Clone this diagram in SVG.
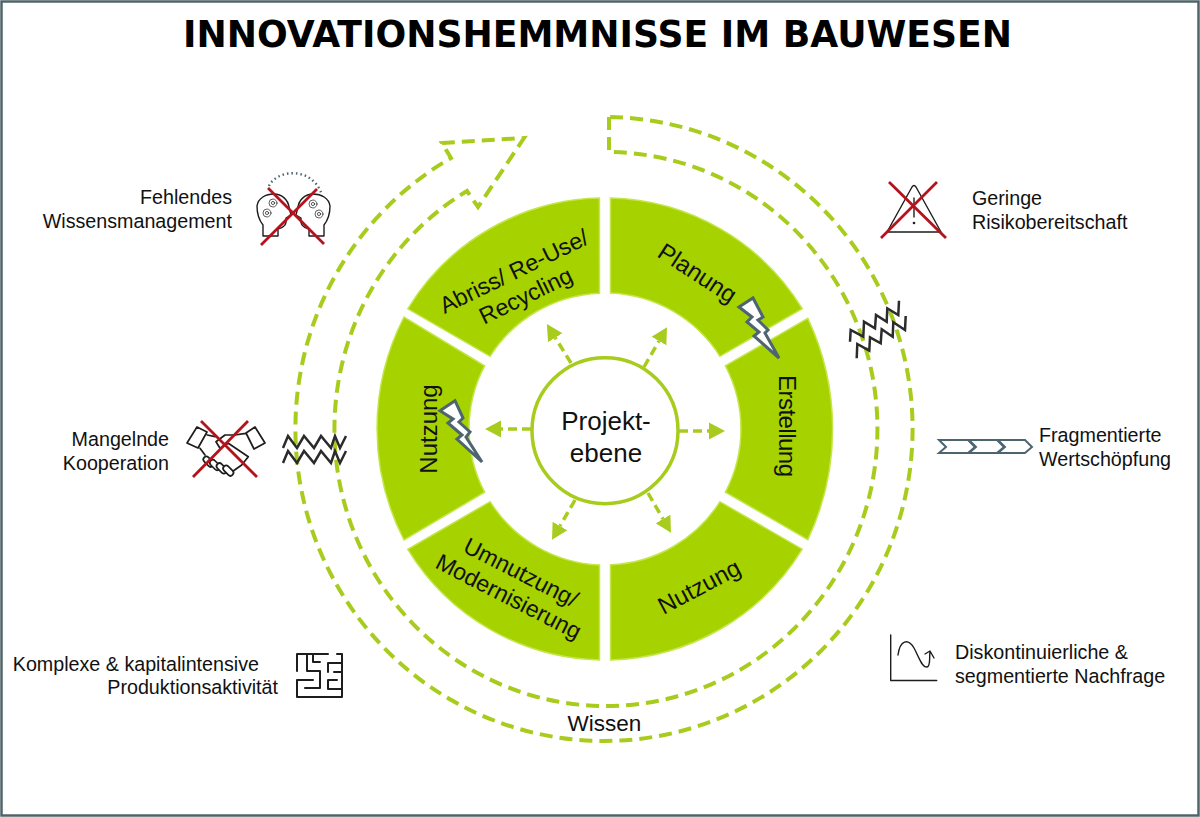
<svg xmlns="http://www.w3.org/2000/svg" width="1200" height="817" viewBox="0 0 1200 817">
<defs>
<style>
text{font-family:"Liberation Sans",Arial,sans-serif;fill:#111;font-size:19.7px}
.seg{fill:#a6d200;stroke:#c4e64c;stroke-width:1.5}
.lab{font-size:24px;text-anchor:middle}
.lab2{font-size:23.2px;text-anchor:middle}
.r{text-anchor:end}
.dash{fill:none;stroke:#a8cc1e;stroke-width:4;stroke-dasharray:13 7}
.spoke{fill:none;stroke:#a8cc1e;stroke-width:3.5;stroke-dasharray:9 5;marker-end:url(#head)}
.cross{fill:none;stroke:#b5121b;stroke-width:2.8}
.ico{fill:none;stroke:#1d1d1d;stroke-width:1.4;stroke-linejoin:round;stroke-linecap:round}
.zig{fill:none;stroke:#2b2b2b;stroke-width:2.5}
.bolt{fill:#fff;stroke:#4c6570;stroke-width:3;stroke-linejoin:miter}
.chev{fill:#fff;stroke:#4c6570;stroke-width:2}
.finger{fill:#fff;stroke:#1d1d1d;stroke-width:1.7}
</style>
<marker id="head" markerUnits="userSpaceOnUse" markerWidth="18" markerHeight="20" refX="0" refY="9" orient="auto"><path d="M0,0.5L16,9L0,17.5Z" fill="#a8cc1e"/></marker>
</defs>
<rect x="1.5" y="1.5" width="1197" height="814" fill="#fff" stroke="#4f6468" stroke-width="2.5"/>
<text id="title" x="597.5" y="47" text-anchor="middle" textLength="829" lengthAdjust="spacingAndGlyphs" style="font-family:'DejaVu Sans',sans-serif;font-weight:bold;font-size:38px;fill:#000">INNOVATIONSHEMMNISSE IM BAUWESEN</text>

<g id="connectors">
<path id="wissen-arrow" class="dash" d="M609,117L609,152A271.5,277 0 1 1 467,191L478,207L524,138L442,143L451,158A308.6,312 0 1 0 609,117Z"/>
<line class="spoke" x1="679" y1="431" x2="709" y2="431"/>
<line class="spoke" x1="531" y1="429" x2="501" y2="429"/>
<line class="spoke" x1="571" y1="363" x2="555.3" y2="337.7"/>
<line class="spoke" x1="644" y1="367" x2="659" y2="341"/>
<line class="spoke" x1="575" y1="500" x2="560" y2="526"/>
<line class="spoke" x1="648" y1="493" x2="663" y2="519"/>
</g>

<g id="node-planung"><path class="seg" d="M610.5,198.1A231,231 0 0 1 802.2,308.7L719.9,356.3A136,136 0 0 0 610.5,293.1Z"/><text class="lab" transform="translate(693,280) rotate(33)">Planung</text></g>
<g id="node-erstellung"><path class="seg" d="M807.8,318.4A259,259 0 0 1 807.8,539.6L725.4,492.2A136,136 0 0 0 725.4,365.8Z"/><text class="lab" transform="translate(779,426) rotate(90)" textLength="102">Erstellung</text></g>
<g id="node-nutzung-b"><path class="seg" transform="rotate(120 605 429)" d="M610.5,198.1A231,231 0 0 1 802.2,308.7L719.9,356.3A136,136 0 0 0 610.5,293.1Z"/><text class="lab" transform="translate(703,594) rotate(-28)">Nutzung</text></g>
<g id="node-umnutzung"><path class="seg" transform="rotate(180 605 429)" d="M610.5,198.1A231,231 0 0 1 802.2,308.7L719.9,356.3A136,136 0 0 0 610.5,293.1Z"/><text class="lab2" transform="translate(511,592) rotate(27)"><tspan x="0" y="-14">Umnutzung/</tspan><tspan x="0" y="13">Modernisierung</tspan></text></g>
<g id="node-nutzung-a"><path class="seg" d="M404,317A244,244 0 0 0 404,540L484.6,492.2A136,136 0 0 1 484.6,365.8Z"/><text class="lab" transform="translate(437,429) rotate(-90)">Nutzung</text></g>
<g id="node-abriss"><path class="seg" transform="rotate(300 605 429)" d="M610.5,198.1A231,231 0 0 1 802.2,308.7L719.9,356.3A136,136 0 0 0 610.5,293.1Z"/><text class="lab2" transform="translate(524,292) rotate(-26)"><tspan x="0" y="-15">Abriss/ Re-Use/</tspan><tspan x="0" y="12">Recycling</tspan></text></g>

<g id="node-projektebene"><circle cx="605" cy="430.7" r="73" fill="#fff" stroke="#a8cc1e" stroke-width="3.5"/><text x="606" y="430" text-anchor="middle" style="font-size:26px">Projekt-</text><text x="606" y="462" text-anchor="middle" style="font-size:26px">ebene</text></g>

<g id="bolt-1"><polygon class="bolt" points="739,307 753,298 763,317 758,320 768,330 765,333 779,358 754,336 759,332 747,322 752,317"/></g>
<g id="bolt-2"><polygon class="bolt" points="440,410.7 455,400.7 463,418 459,422 470,432 466,437 482,462 457,439 462,435 448,423 453,419"/></g>

<g id="zigzag-left"><polyline class="zig" points="283,448 288,436 297,448 304,436 314,448 321,436 331,448 335,436 340,448 346,436"/><polyline class="zig" points="283,463 288,451 297,463 304,451 314,463 321,451 331,463 335,451 340,463 346,451"/></g>
<g id="zigzag-right"><polyline class="zig" points="850,341.7 850.7,330 863.3,336.7 864,321.7 875,328.3 876,315 886.7,321.7 887.3,308.3 898.3,315 899,300.7"/><polyline class="zig" points="856.7,358.3 857.3,344 869.3,350.7 870,337.3 880.7,343.3 881.7,329.3 892.7,336.7 893.3,322.3 905,330 905.7,316"/></g>

<g id="risk"><path class="ico" d="M887,232L912,187Q914,184 916,187L941,232Z"/><path class="ico" d="M914,198V217" stroke-width="2"/><circle cx="914" cy="223" r="1.3" fill="#1d1d1d"/><path class="cross" d="M889,182L946,238M937,182L881,238"/><text x="972" y="205">Geringe</text><text x="972" y="229">Risikobereitschaft</text></g>
<g id="wertschoepfung"><polygon class="chev" points="939,440 968,440 975,447 968,453 939,453 946,447"/><polygon class="chev" points="969,440 997,440 1004,447 997,453 969,453 976,447"/><polygon class="chev" points="998,440 1025,440 1032,447 1025,453 998,453 1005,447"/><text x="1039" y="442">Fragmentierte</text><text x="1039" y="466">Wertschöpfung</text></g>
<g id="nachfrage"><path class="ico" d="M890.7,635V680.5H936.7" stroke-width="1.8"/><path class="ico" d="M898,655C900,640 908,638 914,648C919,657 922,668 927,667C931,666 929,657 930,652M925,654L930,651L934,658"/><text x="955" y="659">Diskontinuierliche &amp;</text><text x="955" y="683">segmentierte Nachfrage</text></g>
<g id="produktion"><path class="ico" style="stroke-width:2" d="M328,654H297V671M307,654V671H320V688H305M313,654V662H320M337,654H342V697H297V680H313M328,663H342V672M328,663V672M334,672H342M328,680H337M328,680V689H342"/><text x="259" y="671" class="r">Komplexe &amp; kapitalintensive</text><text x="278" y="694" class="r">Produktionsaktivität</text></g>
<g id="wissensmanagement"><path d="M269,186C276,170 312,165 322,195" fill="none" stroke="#4c6570" stroke-width="2.4" stroke-dasharray="1.5 3"/><path class="ico" d="M263,236V225C259,220 257,214 257,206C258,198 266,194 274,194C282,194 288,200 289,207L291,215L286,218C287,224 284,228 278,229V236Z"/><path class="ico" d="M324,236V225C328,220 330,214 330,206C329,198 321,194 313,194C305,194 299,200 298,207L296,215L301,218C300,224 303,228 309,229V236Z"/><g class="ico" style="stroke-width:0.7"><circle cx="273" cy="203" r="1.6"/><circle cx="273" cy="203" r="4"/><circle cx="267" cy="213" r="1.6"/><circle cx="267" cy="213" r="4"/><circle cx="313" cy="204" r="1.6"/><circle cx="313" cy="204" r="4"/><circle cx="319" cy="214" r="1.6"/><circle cx="319" cy="214" r="4"/></g><path class="cross" d="M268,188L324,244M317,189L261,245"/><text x="232" y="204" class="r">Fehlendes</text><text x="232" y="228" class="r">Wissensmanagement</text></g>
<g id="kooperation"><path class="ico" style="stroke-width:1.7" d="M197,427L207,432L198,448L187,443ZM255,427L265,443L254,449L246,433ZM207.3,435L215,436.7M200,448.3L205,455M245.7,433.3L235,435H225L216,441.7L220,448.3L228.3,443.3L248.3,456.7L241.7,465L230,473.3"/><rect class="finger" x="202.5" y="458.7" width="12" height="6" rx="3" transform="rotate(45 208.5 461.7)"/><rect class="finger" x="209" y="462" width="12" height="6" rx="3" transform="rotate(45 215 465)"/><rect class="finger" x="215.7" y="465.3" width="12" height="6" rx="3" transform="rotate(45 221.7 468.3)"/><rect class="finger" x="222.3" y="467.7" width="12" height="6" rx="3" transform="rotate(45 228.3 470.7)"/><path class="cross" d="M201,421L257,477M248,421L193,477"/><text x="169" y="446" class="r">Mangelnde</text><text x="169" y="470" class="r">Kooperation</text></g>
<text id="wissen-label" x="604.5" y="731" text-anchor="middle" style="font-size:22.5px">Wissen</text>
</svg>
